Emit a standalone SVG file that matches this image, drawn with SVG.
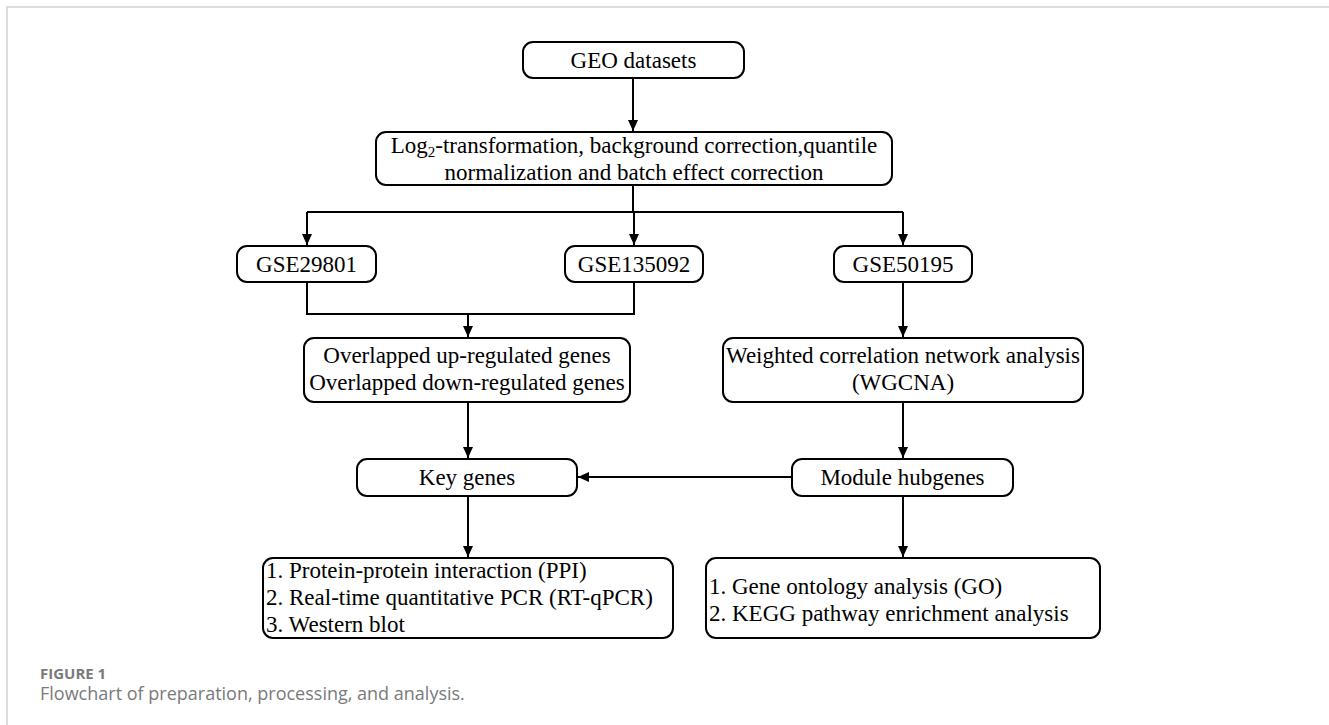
<svg xmlns="http://www.w3.org/2000/svg" width="1329" height="725" viewBox="0 0 1329 725">
<style>
.box{fill:#fff;stroke:#000;stroke-width:2}
.t{font-family:"Liberation Serif","Times New Roman",serif;font-size:23px;fill:#000}
.c{text-anchor:middle}
.ln{fill:none;stroke:#000;stroke-width:2}
.cap1{font-family:"Open Sans","Noto Sans",sans-serif;font-size:15px;font-weight:bold;fill:#7a7a7a}
.cap2{font-family:"Open Sans","Noto Sans",sans-serif;font-size:18px;fill:#7a7a7a}
</style>
<defs>
<marker id="ah" markerUnits="userSpaceOnUse" markerWidth="12" markerHeight="10" refX="11" refY="5" orient="auto">
<path d="M0,0 L11,5 L0,10 Z" fill="#000"/>
</marker>
</defs>
<rect width="1329" height="725" fill="#fff"/>
<path d="M7,725 V7 H1329" fill="none" stroke="#ddd" stroke-width="2"/>

<g id="connectors">
<path class="ln" d="M633,78 V131" marker-end="url(#ah)"/>
<path class="ln" d="M633,185 V212 M307,212 H903"/>
<path class="ln" d="M307,212 V245" marker-end="url(#ah)"/>
<path class="ln" d="M634,212 V245" marker-end="url(#ah)"/>
<path class="ln" d="M903,212 V245" marker-end="url(#ah)"/>
<path class="ln" d="M307,282 V314 H634 V282"/>
<path class="ln" d="M468,314 V337" marker-end="url(#ah)"/>
<path class="ln" d="M903,282 V337" marker-end="url(#ah)"/>
<path class="ln" d="M468,402 V458" marker-end="url(#ah)"/>
<path class="ln" d="M903,402 V458" marker-end="url(#ah)"/>
<path class="ln" d="M792,477 H578" marker-end="url(#ah)"/>
<path class="ln" d="M468,496 V557" marker-end="url(#ah)"/>
<path class="ln" d="M903,496 V557" marker-end="url(#ah)"/>
</g>

<g id="geo">
<rect class="box" x="523" y="42" width="221" height="36" rx="10"/>
<text class="t c" x="633.5" y="68">GEO datasets</text>
</g>
<g id="log2">
<rect class="box" x="376" y="132" width="516" height="53" rx="10"/>
<text class="t c" x="634" y="153">Log<tspan font-size="15" dy="4">2</tspan><tspan dy="-4">-transformation, background correction,quantile</tspan></text>
<text class="t c" x="634" y="180">normalization and batch effect correction</text>
</g>
<g id="gse29801">
<rect class="box" x="237" y="246" width="139" height="36" rx="10"/>
<text class="t c" x="306.5" y="272">GSE29801</text>
</g>
<g id="gse135092">
<rect class="box" x="565" y="246" width="138" height="36" rx="10"/>
<text class="t c" x="634" y="272">GSE135092</text>
</g>
<g id="gse50195">
<rect class="box" x="834" y="246" width="138" height="36" rx="10"/>
<text class="t c" x="903" y="272">GSE50195</text>
</g>
<g id="overlap">
<rect class="box" x="304" y="338" width="326" height="64" rx="10"/>
<text class="t c" x="467" y="363">Overlapped up-regulated genes</text>
<text class="t c" x="467" y="390">Overlapped down-regulated genes</text>
</g>
<g id="wgcna">
<rect class="box" x="723" y="338" width="360" height="64" rx="10"/>
<text class="t c" x="903" y="363">Weighted correlation network analysis</text>
<text class="t c" x="903" y="390">(WGCNA)</text>
</g>
<g id="keygenes">
<rect class="box" x="357" y="459" width="220" height="37" rx="10"/>
<text class="t c" x="467" y="485">Key genes</text>
</g>
<g id="hubgenes">
<rect class="box" x="792" y="459" width="221" height="37" rx="10"/>
<text class="t c" x="902.5" y="485">Module hubgenes</text>
</g>
<g id="validation">
<rect class="box" x="263" y="558" width="410" height="80" rx="10"/>
<text class="t" x="266" y="578">1. Protein-protein interaction (PPI)</text>
<text class="t" x="266" y="605">2. Real-time quantitative PCR (RT-qPCR)</text>
<text class="t" x="266" y="632">3. Western blot</text>
</g>
<g id="enrichment">
<rect class="box" x="706" y="558" width="394" height="80" rx="10"/>
<text class="t" x="709" y="594">1. Gene ontology analysis (GO)</text>
<text class="t" x="709" y="621">2. KEGG pathway enrichment analysis</text>
</g>
<g id="caption">
<text class="cap1" x="40" y="679">FIGURE 1</text>
<text class="cap2" x="40" y="700">Flowchart of preparation, processing, and analysis.</text>
</g>
</svg>
